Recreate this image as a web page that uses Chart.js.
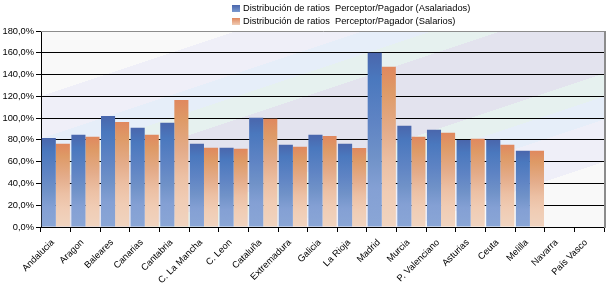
<!DOCTYPE html>
<html><head><meta charset="utf-8">
<script src="https://cdn.jsdelivr.net/npm/chart.js@4"></script>
<style>
html,body{margin:0;padding:0;background:#fff;}
#wrap{position:relative;width:608px;height:283px;}
#legend{position:absolute;left:232px;top:2px;font:9.3px "Liberation Sans",Arial,sans-serif;color:#000;}
.row{height:13px;line-height:13px;display:flex;align-items:center;white-space:pre;}
.box{width:8px;height:7px;margin-right:3px;}
</style></head><body>
<div id="wrap"><canvas id="c" width="608" height="283"></canvas><div id="legend"></div></div>
<script>
const categories = ["Andalucia","Aragon","Baleares","Canarias","Cantabria","C. La Mancha","C. Leon","Cataluña","Extremadura","Galicia","La Rioja","Madrid","Murcia","P. Valenciano","Asturias","Ceuta","Melilla","Navarra","País Vasco"];
const seriesNames = ["Distribución de ratios  Perceptor/Pagador (Asalariados)","Distribución de ratios  Perceptor/Pagador (Salarios)"];
const asalariados = [81.7, 84.8, 101.9, 91.2, 95.8, 76.5, 72.8, 100.4, 75.6, 84.8, 76.5, 160.0, 93.0, 89.4, 79.9, 80.2, 70.1, null, null];
const salarios = [76.5, 82.9, 96.4, 84.8, 116.6, 72.8, 71.9, 99.5, 73.7, 83.6, 72.6, 147.2, 82.9, 86.6, 81.1, 75.6, 70.1, null, null];
const yTicks = [0, 20, 40, 60, 80, 100, 120, 140, 160, 180];

const blueStops = [[0,'#4a66ac'],[0.15,'#4a78be'],[0.4,'#5f84c4'],[0.6,'#7092c8'],[0.78,'#84a0d4'],[1,'#8aa6d6']];
const orangeStops = [[0,'#e0885e'],[0.15,'#de9a66'],[0.4,'#e4ac8a'],[0.6,'#ecc0a4'],[0.78,'#f0ccb4'],[1,'#f0d4c0']];

function barGrad(stops){
  return (c) => {
    const chart = c.chart, a = chart.chartArea;
    if (!a || c.type !== 'data' || c.raw == null) return stops[2][1];
    const y = chart.scales.y;
    const top = y.getPixelForValue(c.raw), bot = y.getPixelForValue(0);
    const g = chart.ctx.createLinearGradient(0, top, 0, bot);
    stops.forEach(s => g.addColorStop(s[0], s[1]));
    return g;
  };
}

// HTML legend
const legendEl = document.getElementById('legend');
[[seriesNames[0], 'linear-gradient(#4a66ac,#7a9ad0)'],[seriesNames[1], 'linear-gradient(#e0885e,#f0ccb4)']].forEach(([t,bg]) => {
  const r = document.createElement('div'); r.className='row';
  const b = document.createElement('div'); b.className='box'; b.style.background=bg;
  const s = document.createElement('span'); s.textContent=t;
  r.appendChild(b); r.appendChild(s); legendEl.appendChild(r);
});

const bgPlugin = {
  id: 'bg',
  beforeDraw(chart){
    const {ctx, chartArea: a} = chart;
    const k = Math.sqrt(10);
    const len = ((a.right - a.left) + 3*(a.bottom - a.top)) / k;
    const g = ctx.createLinearGradient(a.left, a.top, a.left + len/k, a.top + 3*len/k);
    const W='#f9f9f9', L='#efeff8', B='#e6eef9', T='#e6f1ef', G='#e3e3ee';
    const st = [[0,W],[0.17,W],[0.17,L],[0.28,L],[0.28,B],[0.34,B],[0.34,T],[0.40,T],[0.40,G],[0.60,G],[0.60,T],[0.66,T],[0.66,B],[0.72,B],[0.72,L],[0.83,L],[0.83,W],[1,W]];
    st.forEach(s => g.addColorStop(s[0], s[1]));
    ctx.save(); ctx.fillStyle = g; ctx.fillRect(a.left, a.top, a.right - a.left, a.bottom - a.top); ctx.restore();
  },
  afterDraw(chart){
    const {ctx, chartArea: a} = chart;
    ctx.save();
    ctx.strokeStyle = '#8c8c8c';
    ctx.lineWidth = 1;
    ctx.beginPath(); ctx.moveTo(a.left, a.top + 0.5); ctx.lineTo(a.right + 2, a.top + 0.5); ctx.stroke();
    ctx.lineWidth = 2;
    ctx.beginPath(); ctx.moveTo(a.right + 1, a.top); ctx.lineTo(a.right + 1, a.bottom + 1); ctx.stroke();
    ctx.restore();
  }
};

const font = {family: '"Liberation Sans", Arial, sans-serif', size: 9.3};

new Chart(document.getElementById('c'), {
  type: 'bar',
  data: {
    labels: categories,
    datasets: [
      {label: seriesNames[0], data: asalariados, backgroundColor: barGrad(blueStops), borderWidth: 0, categoryPercentage: 0.95, barPercentage: 1.0},
      {label: seriesNames[1], data: salarios, backgroundColor: barGrad(orangeStops), borderWidth: 0, categoryPercentage: 0.95, barPercentage: 1.0}
    ]
  },
  options: {
    responsive: false,
    animation: false,
    devicePixelRatio: 1,
    layout: {padding: {top: 31, right: 4, left: 0, bottom: 0}},
    plugins: {legend: {display: false}, tooltip: {enabled: false}},
    scales: {
      x: {
        grid: {display: true, drawOnChartArea: false, drawTicks: true, tickLength: 5, color: '#000', offset: true},
        border: {display: true, color: '#000', width: 1},
        ticks: {font: font, color: '#000', minRotation: 45, maxRotation: 45, autoSkip: false, padding: 5, labelOffset: -3},
        afterFit(s){ s.height = 56; }
      },
      y: {
        min: 0, max: 180,
        afterBuildTicks(s){ s.ticks = yTicks.map(v => ({value: v})); },
        grid: {color: (c) => c.tick && c.tick.value === 180 ? 'rgba(0,0,0,0)' : '#000', tickColor: '#000', tickLength: 5, lineWidth: 1},
        border: {display: true, color: '#000', width: 1},
        ticks: {font: font, color: '#000', padding: 2, callback: (v) => v.toFixed(1).replace('.', ',') + '%'},
        afterFit(s){ s.width = 41; }
      }
    }
  },
  plugins: [bgPlugin]
});
</script>
</body></html>
